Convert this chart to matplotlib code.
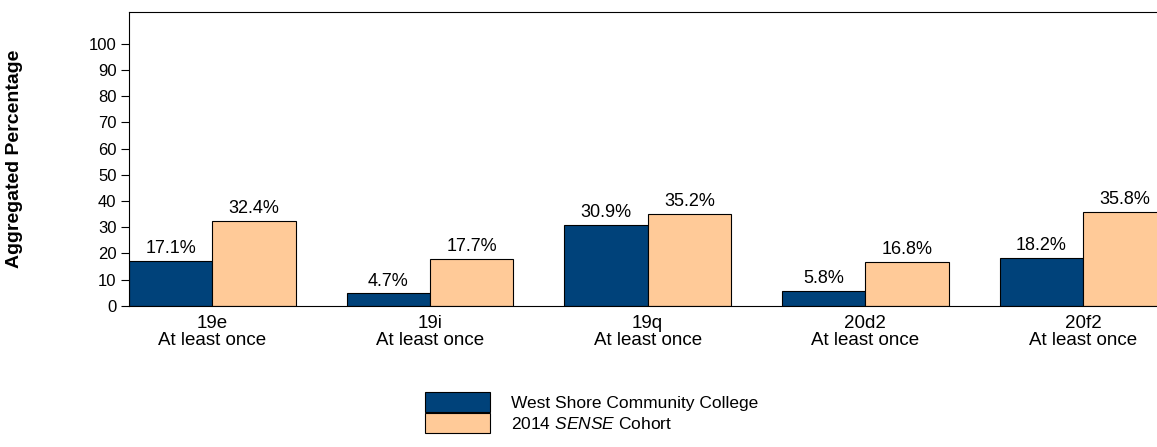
import numpy as np
import matplotlib
matplotlib.use("Agg")
from matplotlib import pyplot as plt
from matplotlib.patches import Patch

plt.rcParams['font.family'] = ['Liberation Sans', 'DejaVu Sans']
plt.rcParams['mathtext.fontset'] = 'custom'
plt.rcParams['mathtext.rm'] = 'Liberation Sans'
plt.rcParams['mathtext.it'] = 'Liberation Sans:italic'

items = ['19e', '19i', '19q', '20d2', '20f2']
responses = ['At least once'] * 5
college = [17.1, 4.7, 30.9, 5.8, 18.2]
cohort = [32.4, 17.7, 35.2, 16.8, 35.8]
college_name = 'West Shore Community College'
cohort_name = r'2014 $\it{SENSE}$ Cohort'

navy = '#00427A'
peach = '#FFCA98'

fig = plt.figure(figsize=(11.57, 4.47), dpi=100)
ax = fig.add_axes([0.1115, 0.316, 0.8885, 0.658])

x = np.arange(len(items))
w = 0.383
b1 = ax.bar(x - w / 2, college, w, color=navy, edgecolor='black', linewidth=0.8)
b2 = ax.bar(x + w / 2, cohort, w, color=peach, edgecolor='black', linewidth=0.8)

for bars, vals in [(b1, college), (b2, cohort)]:
    for bar, v in zip(bars, vals):
        ax.text(bar.get_x() + bar.get_width() / 2, v + 1.5, '%.1f%%' % v,
                ha='center', va='bottom', fontsize=13)

ax.set_xlim(-w, 4.34)
ax.set_ylim(0, 112.3)
ax.set_yticks(range(0, 101, 10))
ax.set_xticks(x)
ax.set_xticklabels(['%s\n%s' % (a, b) for a, b in zip(items, responses)], fontsize=13.5, linespacing=1.0)
ax.tick_params(axis='y', labelsize=12, length=6, width=0.8, pad=3)
ax.tick_params(axis='x', length=0, pad=7)
ax.spines['right'].set_visible(False)
for s in ['left', 'top', 'bottom']:
    ax.spines[s].set_linewidth(0.8)
fig.text(15 / 1157, 1 - 159 / 447, 'Aggregated Percentage', rotation=90,
         ha='center', va='center', fontsize=14, fontweight='bold')

handles = [Patch(facecolor=navy, edgecolor='black', linewidth=0.8),
           Patch(facecolor=peach, edgecolor='black', linewidth=0.8)]
fig.legend(handles, [college_name, cohort_name], loc='upper left',
           bbox_to_anchor=(425 / 1157, 1 - 392 / 447), frameon=False,
           fontsize=12.5, handlelength=3.75, handleheight=1.4,
           handletextpad=1.2, labelspacing=0.08, borderpad=0, borderaxespad=0)

fig.savefig('out.png', dpi=100)
